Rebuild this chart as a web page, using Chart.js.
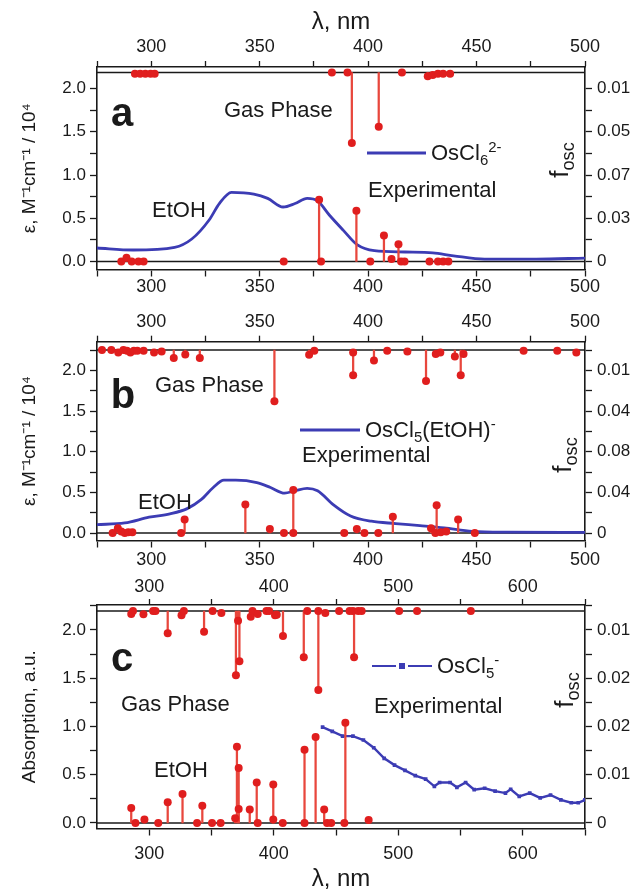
<!DOCTYPE html>
<html><head><meta charset="utf-8">
<script src="https://cdn.jsdelivr.net/npm/chart.js@4.4.1/dist/chart.umd.min.js"></script>
<style>
html,body{margin:0;padding:0;background:#fff}
body{width:636px;height:891px;position:relative;overflow:hidden;font-family:"Liberation Sans",Arial,sans-serif;color:#1a1a1a}
canvas{position:absolute;left:0}
.t{position:absolute;white-space:nowrap;font-size:22px;line-height:1;transform:translateY(-50%)}
.t sub,.t sup{font-size:0.68em;line-height:0}
.p{position:absolute;font-weight:bold;font-size:40px;line-height:1;transform:translate(-50%,-50%)}
.ln{position:absolute;height:3px;background:#3c3cb4;transform:translateY(-50%)}
.f{position:absolute;font-size:26px;line-height:1;white-space:nowrap;transform:translate(-50%,-50%) rotate(-90deg)}
.f sub{font-size:0.7em}
</style></head>
<body>
<canvas id="ca" width="636" height="300" style="top:0"></canvas>
<canvas id="cb" width="636" height="270" style="top:300px"></canvas>
<canvas id="cc" width="636" height="321" style="top:570px"></canvas>

<div class="p" style="left:122px;top:112px">a</div>
<div class="t" style="left:224px;top:110px">Gas Phase</div>
<div class="ln" style="left:367px;top:153px;width:59px"></div>
<div class="t" style="left:431px;top:153px">OsCl<sub>6</sub><sup>2-</sup></div>
<div class="t" style="left:368px;top:190px">Experimental</div>
<div class="t" style="left:152px;top:210px">EtOH</div>
<div class="f" style="left:562px;top:160px">f<sub>osc</sub></div>

<div class="p" style="left:123px;top:394px">b</div>
<div class="t" style="left:155px;top:385px">Gas Phase</div>
<div class="ln" style="left:300px;top:430px;width:60px"></div>
<div class="t" style="left:365px;top:430px">OsCl<sub>5</sub>(EtOH)<sup>-</sup></div>
<div class="t" style="left:302px;top:455px">Experimental</div>
<div class="t" style="left:138px;top:502px">EtOH</div>
<div class="f" style="left:565px;top:455px">f<sub>osc</sub></div>

<div class="p" style="left:122px;top:657px">c</div>
<div class="t" style="left:121px;top:704px">Gas Phase</div>
<div class="ln" style="left:372px;top:666px;width:24px;height:2px"></div>
<div class="ln" style="left:399px;top:666px;width:6px;height:6px"></div>
<div class="ln" style="left:408px;top:666px;width:24px;height:2px"></div>
<div class="t" style="left:437px;top:666px">OsCl<sub>5</sub><sup>-</sup></div>
<div class="t" style="left:374px;top:706px">Experimental</div>
<div class="t" style="left:154px;top:770px">EtOH</div>
<div class="f" style="left:567px;top:690px">f<sub>osc</sub></div>

<script>
// ---------- Panel a : OsCl6 2- ----------
const lamA = [275,291.7,310.8,318.7,326.7,331.4,337,347.3,353.7,360.8,366.3,371.9,376.7,382.2,388.6,394.9,402.9,417.1,429.8,439.4,453.7,477.5,500];
const epsA = [0.156,0.133,0.164,0.26,0.48,0.67,0.80,0.78,0.73,0.63,0.67,0.73,0.70,0.535,0.36,0.195,0.125,0.11,0.10,0.066,0.027,0.027,0.04];
const etohLamA = [286.2,288.6,291,294.1,296.5,361.1,377.4,378.3,394.6,401,407.3,410.8,414,415.2,416.8,428.3,432.2,434.6,437];
const etohFA   = [0,0.003,0,0,0,0,0.050,0,0.041,0,0.021,0.002,0.014,0,0,0,0,0,0];
const gasLamA  = [292.5,294.9,297.3,299.7,301.6,383.3,390.5,392.5,404.9,415.6,427.5,429.8,432.2,434.6,437.8];
const gasFA    = [0.001,0.001,0.001,0.001,0.001,0,0,0.057,0.044,0,0.003,0.002,0.001,0.001,0.001];
const rightLabelsA = ["0","0.03","0.07","0.05","0.01"];

// ---------- Panel b : OsCl5(EtOH)- ----------
const lamB = [275,287.8,299,308.6,316.6,323,328.6,333.5,339,348.7,355,361.5,366.3,371.9,376.7,383.9,391.9,401.5,412.7,423.9,435.1,448,464,500];
const epsB = [0.103,0.124,0.194,0.236,0.30,0.41,0.56,0.65,0.65,0.62,0.56,0.49,0.52,0.55,0.52,0.35,0.21,0.145,0.116,0.09,0.062,0.02,0.01,0.008];
const etohLamB = [282.2,284.6,286.2,287.8,289.4,291.3,313.8,315.4,343.4,354.7,361.2,365.5,365.5,389,394.8,398.3,404.7,411.4,429,431,431.6,433.5,436,441.5,449.2];
const etohFB   = [0,0.0048,0.0016,0,0.0008,0.0008,0,0.0132,0.028,0.004,0,0.0424,0,0,0.004,0,0,0.016,0.0048,0,0.0272,0.0008,0.0016,0.0132,0];
const gasLamB  = [277.3,281.6,284.8,287.2,288.8,290.4,292,293.6,296.5,301.3,304.8,310.4,315.7,322.4,356.8,372.8,375.2,393.1,393.1,402.7,408.8,418.1,426.7,431.2,433.3,440,442.7,444,471.7,487.2,496];
const gasFB    = [0,0,0.0024,0,0.0008,0.0024,0.0008,0.0008,0.0008,0.0024,0.0016,0.008,0.0044,0.008,0.0504,0.0048,0.0008,0.0024,0.0248,0.0104,0.0008,0.0016,0.0304,0.004,0.0024,0.0064,0.0248,0.004,0.0008,0.0008,0.0024];
const rightLabelsB = ["0","0.04","0.08","0.04","0.01"];

// ---------- Panel c : OsCl5- ----------
const lamC = [439.2,447,455.3,463.6,472,480.3,488.7,497,505.4,513.7,522,529,533.2,541.6,547.1,554.1,561,569.4,577.8,586.1,590.3,597.2,605.6,614,622.3,630.6,639,644.6,650];
const epsC = [0.993,0.95,0.90,0.90,0.86,0.78,0.67,0.60,0.545,0.49,0.455,0.38,0.42,0.42,0.37,0.42,0.345,0.36,0.33,0.31,0.35,0.276,0.31,0.26,0.29,0.24,0.21,0.21,0.24];
const etohLamC = [285.5,288.9,296.1,307.2,314.8,326.7,338.4,342.6,350.4,357.3,369,370.4,371.8,371.8,380.7,386.3,387.1,399.6,399.6,407.2,424.7,424.7,433.6,440.5,442.8,446.1,456.7,457.5,476.2];
const etohFC   = [0.0031,0,0.0007,0,0.0043,0.006,0,0.0036,0,0,0.001,0.0158,0.0114,0.0029,0.0028,0.0084,0,0.008,0.0007,0,0.0152,0,0.0178,0.0028,0,0,0,0.0208,0.0006];
const gasLamC  = [285.5,286.9,295.3,303.1,305,314.8,325.9,327.8,344,350.9,357.9,369.6,371.3,372.4,381.5,382.9,387.1,394.1,396.3,401,402.4,407.4,424.1,426.9,435.8,435.8,441.4,452.5,460.9,463.6,464.5,467.8,470.6,500.7,515.1,558.3];
const gasFC    = [0.0006,0,0.0007,0,0,0.0046,0.0009,0,0.0043,0,0.0004,0.0133,0.002,0.0104,0.0012,0,0.0006,0,0,0.0009,0.0008,0.0052,0.0096,0,0.0164,0,0.0004,0,0,0,0.0096,0,0,0,0,0];
const rightLabelsC = ["0","0.01","0.02","0.02","0.01"];

const leftLabels = ["0.0","0.5","1.0","1.5","2.0"];
const xLabelsAB = [300,350,400,450,500];
const xLabelsC = [300,400,500,600];

const BLUE = '#3c3cb4', RED = '#e01e1e', STICK = '#e8473d', INK = '#1a1a1a';
const FONT = '"Liberation Sans", Arial, sans-serif';

function labelAt(arr, v){
  const i = Math.round(v/0.5);
  return (Math.abs(v - i*0.5) < 1e-6 && i >= 0 && i < arr.length) ? arr[i] : '';
}

function makePanel(o){
  const H = o.h;
  const grid = {drawOnChartArea:false, drawTicks:true, tickLength:7, tickColor:INK, tickWidth:1.3, offset:false};
  const border = {display:true, color:INK, width:1.6};
  const pts = (xs, ys) => xs.map((x,i)=>({x:x, y:ys[i]}));
  const bars = (xs, ys) => xs.map((x,i)=>({x:x, y:[0, ys[i]]}));
  const kf = o.k, kg = o.kg;
  const datasets = [
    {type:'line', data:[{x:o.xMin,y:0},{x:o.xMax,y:0}], yAxisID:'yf', borderColor:INK, borderWidth:1.6, pointRadius:0, order:6},
    {type:'line', data:[{x:o.xMin,y:0},{x:o.xMax,y:0}], yAxisID:'yg', borderColor:INK, borderWidth:1.6, pointRadius:0, order:6},
    Object.assign({type:'line', data:pts(o.lam, o.eps), yAxisID:'y', borderColor:BLUE, backgroundColor:BLUE, fill:false, order:5}, o.curveStyle),
    {type:'bar', data:bars(o.eLam, o.eF), yAxisID:'yf', backgroundColor:STICK, barThickness:1.6, grouped:false, order:3},
    {type:'bar', data:bars(o.gLam, o.gF), yAxisID:'yg', backgroundColor:STICK, barThickness:1.6, grouped:false, order:3},
    {type:'scatter', data:pts(o.eLam, o.eF), yAxisID:'yf', pointRadius:4, pointBackgroundColor:RED, pointBorderWidth:0, clip:false, order:1},
    {type:'scatter', data:pts(o.gLam, o.gF), yAxisID:'yg', pointRadius:4, pointBackgroundColor:RED, pointBorderWidth:0, clip:false, order:1}
  ];
  const tickFontX = {family:FONT, size:18};
  const tickFontY = {family:FONT, size:17};
  new Chart(document.getElementById(o.id), {
    type:'scatter',
    data:{datasets:datasets},
    options:{
      responsive:false, animation:false,
      layout:{padding:0},
      plugins:{legend:{display:false}, tooltip:{enabled:false}},
      scales:{
        x:{type:'linear', position:'bottom', min:o.xMin, max:o.xMax, offset:false,
           grid:grid, border:border,
           ticks:{stepSize:o.xStep, includeBounds:false, autoSkip:false, maxRotation:0, color:INK, font:tickFontX, padding:o.botPad,
                  callback:(v)=> o.xLabels.includes(v) ? String(v) : ''},
           title:{display:!!o.bottomTitle, text:'λ, nm', color:INK, font:{family:FONT, size:24, lineHeight:1}, padding:{top:0,bottom:0}},
           afterFit:(s)=>{ s.height = H - o.bottom; }},
        x2:{type:'linear', position:'top', min:o.xMin, max:o.xMax, offset:false,
           grid:Object.assign({}, grid, {tickLength:6}), border:border,
           ticks:{stepSize:o.xStep, includeBounds:false, autoSkip:false, maxRotation:0, color:INK, font:tickFontX, padding:o.topPad,
                  callback:(v)=> o.xLabels.includes(v) ? String(v) : ''},
           title:{display:!!o.topTitle, text:'λ, nm', color:INK, font:{family:FONT, size:24, lineHeight:1.2}, padding:{top:8,bottom:0}},
           afterFit:(s)=>{ s.height = o.top; }},
        y:{type:'linear', position:'left', min:o.eMin, max:o.eMax,
           grid:grid, border:border,
           ticks:{stepSize:0.25, includeBounds:false, autoSkip:false, color:INK, font:tickFontY, padding:4,
                  callback:(v)=> labelAt(leftLabels, v)},
           title:{display:true, text:o.yTitle, color:INK, font:{family:FONT, size:19}, padding:{top:18,bottom:0}},
           afterFit:(s)=>{ s.width = 97; }},
        yr:{type:'linear', position:'right', min:o.eMin, max:o.eMax,
           grid:grid, border:border,
           ticks:{stepSize:0.25, includeBounds:false, autoSkip:false, color:INK, font:tickFontY, padding:5,
                  callback:(v)=> labelAt(o.rightLabels, v)},
           afterFit:(s)=>{ s.width = 636 - 585; }},
        yf:{type:'linear', display:false, min:o.eMin*kf, max:o.eMax*kf},
        yg:{type:'linear', display:false, reverse:true, min:-(o.eMax - o.gBase)*kg, max:(o.gBase - o.eMin)*kg}
      }
    }
  });
}

const smooth = {borderWidth:2.8, pointRadius:0, cubicInterpolationMode:'monotone'};
makePanel({id:'ca', h:300, top:67, bottom:269.5, xMin:275, xMax:500, xStep:25, xLabels:xLabelsAB,
  eMin:-0.0925, eMax:2.2486, gBase:2.185, k:0.07, kg:0.07,
  lam:lamA, eps:epsA, eLam:etohLamA, eF:etohFA, gLam:gasLamA, gF:gasFA, rightLabels:rightLabelsA,
  yTitle:'ε, M⁻¹cm⁻¹ / 10⁴', topTitle:true, bottomTitle:false, topPad:3, botPad:0, curveStyle:smooth});
makePanel({id:'cb', h:270, top:41.7, bottom:240.5, xMin:275, xMax:500, xStep:25, xLabels:xLabelsAB,
  eMin:-0.092, eMax:2.353, gBase:2.251, k:0.08, kg:0.08,
  lam:lamB, eps:epsB, eLam:etohLamB, eF:etohFB, gLam:gasLamB, gF:gasFB, rightLabels:rightLabelsB,
  yTitle:'ε, M⁻¹cm⁻¹ / 10⁴', topTitle:false, bottomTitle:false, topPad:3, botPad:2, curveStyle:smooth});
makePanel({id:'cc', h:321, top:35, bottom:258.5, xMin:258, xMax:650, xStep:50, xLabels:xLabelsC,
  eMin:-0.057, eMax:2.259, gBase:2.197, k:0.02, kg:0.02,
  lam:lamC, eps:epsC, eLam:etohLamC, eF:etohFC, gLam:gasLamC, gF:gasFC, rightLabels:rightLabelsC,
  yTitle:'Absorption, a.u.', topTitle:false, bottomTitle:true, topPad:1, botPad:8,
  curveStyle:{borderWidth:2.4, pointRadius:2.6, pointStyle:'rect', pointBorderWidth:0, pointBackgroundColor:BLUE}});
</script>
</body></html>
